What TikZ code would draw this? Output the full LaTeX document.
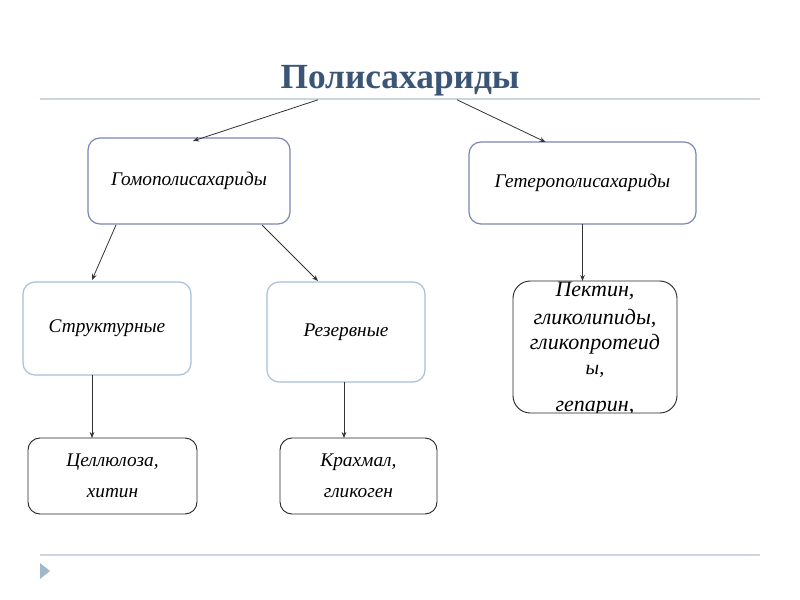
\documentclass[tikz,border=0pt]{standalone}
\usepackage{fontspec}
\setmainfont{Liberation Serif}
\usetikzlibrary{calc,arrows.meta}
\definecolor{titlec}{HTML}{3A5575}
\definecolor{sepc}{HTML}{CDD6E0}
\definecolor{tric}{HTML}{A0B8CC}
\definecolor{darkb}{HTML}{7A86B5}
\definecolor{lightb}{HTML}{A8C0DA}
\definecolor{arrc}{HTML}{333333}
\tikzset{
  box/.style={draw, rounded corners=9pt, inner sep=0pt, outer sep=0pt, line width=0.9pt,
    font=\itshape\fontsize{14.5}{23.5}\selectfont, align=center},
  darkbox/.style={box, draw=darkb},
  lightbox/.style={box, draw=lightb},
  blackbox/.style={box, draw=black!85, line width=0.7pt},
  arr/.style={draw=arrc, line width=0.6pt, -{Stealth[length=4.5pt,width=3.5pt]}},
  sepline/.style={draw=sepc, line width=1.6pt},
  ptext/.style={anchor=base, inner sep=0pt, font=\itshape\fontsize{16.5}{18}\selectfont}
}
\begin{document}
\begin{tikzpicture}[x=0.75pt,y=-0.75pt]
\useasboundingbox (0,0) rectangle (800,600);
\fill[white] (0,0) rectangle (800,600);
\node[anchor=base, inner sep=0pt, text=titlec, font=\bfseries\fontsize{26.5}{30}\selectfont] (title) at (400,88) {Полисахариды};
\draw[sepline] (40,99) -- (760,99);
\draw[sepline] (40,555) -- (760,555);
\fill[tric] (40,563) -- (50,571) -- (40,579) -- cycle;

\node[darkbox, minimum width=151.5pt, minimum height=64.5pt] (homo) at (189,181) {Гомополисахариды};
\node[darkbox, minimum width=170.25pt, minimum height=61.5pt] (hetero) at (582.5,183) {Гетерополисахариды};
\node[lightbox, minimum width=126pt, minimum height=69.75pt] (struct) at (107,328.5) {Структурные};
\node[lightbox, minimum width=118.5pt, minimum height=75pt] (reserve) at (346,332) {Резервные};
\node[blackbox, minimum width=126.75pt, minimum height=57pt] (cell) at (112.5,476) {Целлюлоза,\\хитин};
\node[blackbox, minimum width=117.75pt, minimum height=57pt] (krah) at (358.5,476) {Крахмал,\\гликоген};

\begin{scope}
\clip (513,281) rectangle (677,412.5);
\node[ptext] (p1) at (595,296) {Пектин,};
\node[ptext] (p2) at (595,324) {гликолипиды,};
\node[ptext] (p3) at (595,349) {гликопротеид};
\node[ptext, font=\itshape\fontsize{15}{16}\selectfont] (p4) at (595,374) {ы,};
\node[ptext] (p5) at (595,411) {гепарин,};
\end{scope}
\node[blackbox, rounded corners=13pt, minimum width=123pt, minimum height=99pt] (pekt) at (595,347) {};

\coordinate (s1) at ($(struct.south)+(-15,0)$);
\coordinate (s2) at ($(reserve.south)+(-2,0)$);
\draw[arr] ($(title.south)+(-82,4)$) -- ($(homo.north)+(4,3)$);
\draw[arr] ($(title.south)+(57,4)$) -- ($(hetero.north)+(-37,0)$);
\draw[arr] ($(homo.south)+(-73,1)$) -- ($(struct.north)+(-15,-2)$);
\draw[arr] ($(homo.south)+(73,1)$) -- ($(reserve.north)+(-28,-1)$);
\draw[arr] (hetero.south) -- (hetero.south |- pekt.north);
\draw[arr] (s1) -- (s1 |- cell.north);
\draw[arr] (s2) -- (s2 |- krah.north);
\end{tikzpicture}
\end{document}
